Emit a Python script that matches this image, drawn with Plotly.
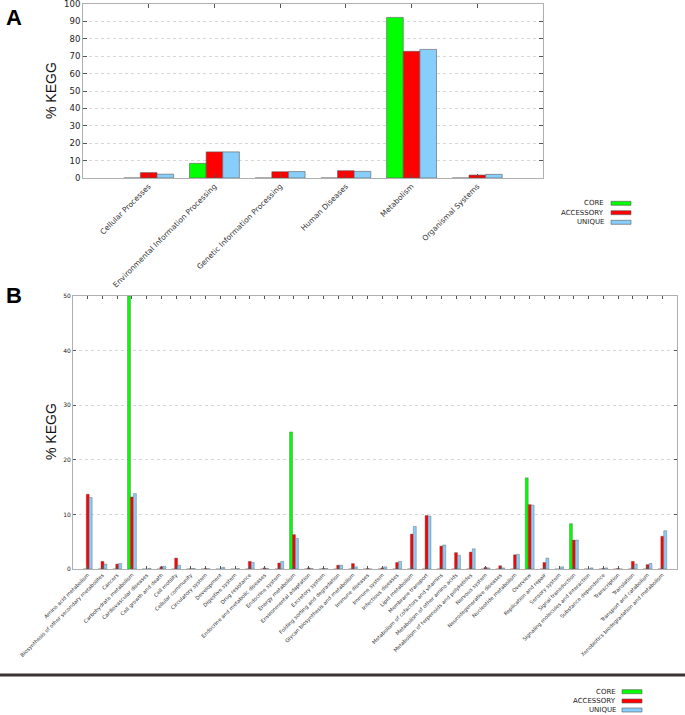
import plotly.graph_objects as go

W, H = 685, 715

# ---------------- Panel A data ----------------
cats_a = ["Cellular Processes", "Environmental Information Processing",
          "Genetic Information Processing", "Human Diseases",
          "Metabolism", "Organismal Systems"]
core_a = [0, 8.4, 0, 0, 92.3, 0]
acc_a = [3.1, 15.0, 3.6, 4.2, 72.8, 1.7]
uniq_a = [2.2, 15.0, 3.7, 3.8, 73.9, 2.1]
yticks_a = [0, 10, 20, 30, 40, 50, 60, 70, 80, 90, 100]

# ---------------- Panel B data ----------------
cats_b = [
    "Amino acid metabolism", "Biosynthesis of other secondary metabolites", "Cancers",
    "Carbohydrate metabolism", "Cardiovascular diseases", "Cell growth and death",
    "Cell motility", "Cellular community", "Circulatory system", "Development",
    "Digestive system", "Drug resistance", "Endocrine and metabolic diseases",
    "Endocrine system", "Energy metabolism", "Environmental adaptation",
    "Excretory system", "Folding sorting and degradation",
    "Glycan biosynthesis and metabolism", "Immune diseases", "Immune system",
    "Infectious diseases", "Lipid metabolism", "Membrane transport",
    "Metabolism of cofactors and vitamins", "Metabolism of other amino acids",
    "Metabolism of terpenoids and polyketides", "Nervous system",
    "Neurodegenerative diseases", "Nucleotide metabolism", "Overview",
    "Replication and repair", "Sensory system", "Signal transduction",
    "Signaling molecules and interaction", "Substance dependence", "Transcription",
    "Translation", "Transport and catabolism",
    "Xenobiotics biodegradation and metabolism"]
core_b = [0, 0, 0, 50.0, 0, 0, 0, 0, 0, 0,
          0, 0, 0, 0, 25.1, 0, 0, 0, 0, 0,
          0, 0, 0, 0, 0, 0, 0, 0, 0, 0,
          16.7, 0, 0, 8.3, 0, 0, 0, 0, 0, 0]
acc_b = [13.7, 1.4, 0.9, 13.2, 0.0, 0.4, 2.0, 0.05, 0.1, 0.0,
         0.0, 1.4, 0.2, 1.1, 6.3, 0.2, 0.1, 0.7, 1.0, 0.1,
         0.2, 1.2, 6.4, 9.8, 4.2, 3.0, 3.1, 0.3, 0.6, 2.6,
         11.8, 1.2, 0.0, 5.3, 0.0, 0.1, 0.1, 1.4, 0.8, 6.0]
uniq_b = [13.1, 0.9, 1.0, 13.8, 0.1, 0.5, 0.7, 0.1, 0.05, 0.3,
          0.1, 1.2, 0.1, 1.4, 5.6, 0.1, 0.1, 0.7, 0.4, 0.0,
          0.4, 1.4, 7.8, 9.7, 4.4, 2.5, 3.7, 0.2, 0.2, 2.7,
          11.7, 2.0, 0.4, 5.3, 0.2, 0.2, 0.0, 0.9, 1.0, 7.0]
yticks_b = [0, 10, 20, 30, 40, 50]

series_names = ["CORE", "ACCESSORY", "UNIQUE"]
colors = ["#00ff00", "#ff0000", "#87cefa"]
edge = "#5a5a5a"

fig = go.Figure()

# Panel A bars
wa = 0.253
for i, (name, vals) in enumerate(zip(series_names, [core_a, acc_a, uniq_a])):
    fig.add_trace(go.Bar(x=cats_a, y=vals, name=name, marker_color=colors[i],
                         marker_line_color=edge, marker_line_width=0.6,
                         width=wa, offset=-1.5 * wa + i * wa,
                         xaxis="x", yaxis="y", showlegend=False))

# Panel B bars
wb = 0.2
for i, (name, vals) in enumerate(zip(series_names, [core_b, acc_b, uniq_b])):
    fig.add_trace(go.Bar(x=cats_b, y=vals, name=name, marker_color=colors[i],
                         marker_line_color=edge, marker_line_width=0.4,
                         width=wb, offset=-1.5 * wb + i * wb,
                         xaxis="x2", yaxis="y2", showlegend=False))

def px(v):
    return v / W

def py(v):
    return 1 - v / H

axis_common = dict(showline=True, linecolor="#b0b0b0", linewidth=1, mirror="allticks",
                   ticks="inside", tickcolor="#555555", zeroline=False, automargin=False,
                   ticklabeloverflow="allow")

fig.update_layout(
    width=W, height=H, margin=dict(l=0, r=0, t=0, b=0, autoexpand=False),
    paper_bgcolor="white", plot_bgcolor="white",
    barmode="overlay", showlegend=False,
    font=dict(family="DejaVu Sans", color="#333333"),
    xaxis=dict(domain=[px(83), px(543)], anchor="y", type="category",
               range=[-1, len(cats_a)], tickangle=-45, ticklen=4,
               tickfont=dict(size=7.5, family="DejaVu Sans", color="#333333"),
               showgrid=False, **axis_common),
    yaxis=dict(domain=[py(178), py(4)], anchor="x", range=[0, 100],
               tickvals=yticks_a, ticklen=4,
               tickfont=dict(size=8.5, family="DejaVu Sans", color="#222222"),
               showgrid=True, gridcolor="#d6d6d6", griddash="dot", gridwidth=1,
               **axis_common),
    xaxis2=dict(domain=[px(73), px(677)], anchor="y2", type="category",
                range=[-1, len(cats_b)], tickangle=-45, ticklen=3,
                tickfont=dict(size=5.2, family="DejaVu Sans", color="#333333"),
                showgrid=False, **axis_common),
    yaxis2=dict(domain=[py(569), py(296)], anchor="x2", range=[0, 50],
                tickvals=yticks_b, ticklen=3,
                tickfont=dict(size=6, family="DejaVu Sans", color="#222222"),
                showgrid=True, gridcolor="#d6d6d6", griddash="dot", gridwidth=1,
                **axis_common),
)

annotations = [
    dict(text="<b>A</b>", x=px(4), y=py(18), xref="paper", yref="paper",
         xanchor="left", yanchor="middle", showarrow=False,
         font=dict(size=22, family="Liberation Sans", color="black")),
    dict(text="<b>B</b>", x=px(4), y=py(295), xref="paper", yref="paper",
         xanchor="left", yanchor="middle", showarrow=False,
         font=dict(size=22, family="Liberation Sans", color="black")),
    dict(text="% KEGG", x=px(51), y=py(91), xref="paper", yref="paper",
         textangle=-90, xanchor="center", yanchor="middle", showarrow=False,
         font=dict(size=14, family="Liberation Sans", color="#111111")),
    dict(text="% KEGG", x=px(51), y=py(432), xref="paper", yref="paper",
         textangle=-90, xanchor="center", yanchor="middle", showarrow=False,
         font=dict(size=14, family="Liberation Sans", color="#111111")),
]

shapes = [
    dict(type="line", xref="paper", yref="paper", x0=0, x1=1, y0=py(675), y1=py(675),
         line=dict(color="#3b3333", width=3)),
]

# custom legends (text then swatch)
legend_specs = [(606, 611, 631, [203.3, 212.7, 222.3]),
                (618, 622, 642, [691.7, 701.0, 710.0])]
for text_x, sx0, sx1, ys in legend_specs:
    for name, col, yy in zip(series_names, colors, ys):
        annotations.append(dict(text=name, x=px(text_x), y=py(yy), xref="paper", yref="paper",
                                xanchor="right", yanchor="middle", showarrow=False,
                                font=dict(size=7, family="DejaVu Sans", color="#222222")))
        shapes.append(dict(type="rect", xref="paper", yref="paper",
                           x0=px(sx0), x1=px(sx1), y0=py(yy + 2), y1=py(yy - 2),
                           fillcolor=col, line=dict(color=edge, width=0.6)))

fig.update_layout(annotations=annotations, shapes=shapes)

fig.write_html("out.html", config={"displayModeBar": False},
               post_script="document.body.style.margin='0';document.body.style.overflow='hidden';")
